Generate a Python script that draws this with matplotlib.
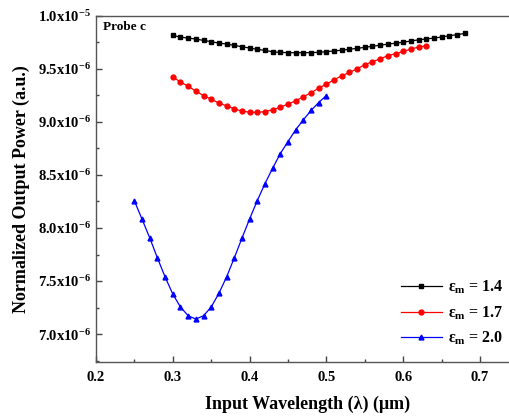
import numpy as np
import matplotlib
matplotlib.use("Agg")
import matplotlib.pyplot as plt
from matplotlib.ticker import MultipleLocator, FuncFormatter

plt.rcParams["font.family"] = ["Liberation Serif", "DejaVu Serif"]
plt.rcParams["font.weight"] = "bold"
plt.rcParams["mathtext.fontset"] = "custom"
plt.rcParams["mathtext.rm"] = "Liberation Serif:bold"
plt.rcParams["mathtext.it"] = "Liberation Serif:bold"
plt.rcParams["mathtext.default"] = "rm"

# longueurs d'onde (um)
x_14 = np.round(np.arange(0.30, 0.685, 0.01), 2)
x_17 = np.round(np.arange(0.30, 0.635, 0.01), 2)
x_20 = np.round(np.arange(0.25, 0.505, 0.01), 2)

# puissance normalisee (x1e-6)
y_14 = [9.814, 9.798, 9.789, 9.780, 9.767, 9.755, 9.742, 9.733, 9.720, 9.708,
        9.695, 9.683, 9.673, 9.660, 9.654, 9.652, 9.651, 9.651, 9.652, 9.655,
        9.661, 9.668, 9.675, 9.684, 9.692, 9.702, 9.712, 9.722, 9.732, 9.741,
        9.750, 9.762, 9.772, 9.781, 9.789, 9.799, 9.811, 9.821, 9.833]
y_17 = [9.425, 9.374, 9.336, 9.289, 9.248, 9.214, 9.176, 9.151, 9.123, 9.101,
        9.091, 9.088, 9.097, 9.113, 9.138, 9.167, 9.198, 9.236, 9.274, 9.318,
        9.355, 9.396, 9.434, 9.465, 9.500, 9.538, 9.566, 9.594, 9.623, 9.642,
        9.663, 9.686, 9.704, 9.717]
y_20 = [8.255, 8.082, 7.906, 7.717, 7.538, 7.377, 7.255, 7.173, 7.142, 7.173,
        7.255, 7.384, 7.538, 7.717, 7.903, 8.085, 8.258, 8.418, 8.563, 8.701,
        8.814, 8.925, 9.019, 9.107, 9.182, 9.248]

etiquetas = ["ε$_{m}$ = 1.4", "ε$_{m}$ = 1.7", "ε$_{m}$ = 2.0"]

fig = plt.figure(figsize=(5.09, 4.17), dpi=100)
ax = fig.add_axes([96 / 509, 55.3 / 417, 422.4 / 509, 346 / 417])

ax.plot(x_14, np.array(y_14) * 1e-6, color="black", marker="s", markersize=3.5,
        linewidth=0.9, label=etiquetas[0])
ax.plot(x_17, np.array(y_17) * 1e-6, color="red", marker="o", markersize=3.5,
        linewidth=0.9, label=etiquetas[1])
ax.plot(x_20, np.array(y_20) * 1e-6, color="blue", marker="^", markersize=3.5,
        linewidth=0.9, label=etiquetas[2])

ax.set_xlim(0.2, 0.75)
ax.set_ylim(6.74e-6, 1.0e-5)

ax.xaxis.set_major_locator(MultipleLocator(0.1))
ax.xaxis.set_minor_locator(MultipleLocator(0.05))
ax.yaxis.set_major_locator(MultipleLocator(0.5e-6))
ax.yaxis.set_minor_locator(MultipleLocator(0.25e-6))


def formato_y(v, pos):
    if v >= 0.99e-5:
        return "%.1fx10$^{-5}$" % (v * 1e5)
    return "%.1fx10$^{-6}$" % (v * 1e6)


ax.yaxis.set_major_formatter(FuncFormatter(formato_y))
ax.xaxis.set_major_formatter(FuncFormatter(lambda v, p: "%.1f" % v))

ax.tick_params(which="both", direction="in", top=False, right=False,
               labelsize=10.5, color="#444444")
ax.tick_params(which="major", length=4, width=1)
ax.tick_params(which="minor", length=2.5, width=1)
ax.tick_params(axis="x", pad=7)
for s in ax.spines.values():
    s.set_color("#555555")
    s.set_linewidth(1.0)

ax.set_xlabel("Input Wavelength (λ) (μm)", fontsize=13, fontweight="bold", labelpad=8)
ax.set_ylabel("Normalized Output Power (a.u.)", fontsize=13, fontweight="bold", labelpad=6)

fig.text(103 / 509, 1 - 27 / 417, "Probe c", fontsize=9.5, fontweight="bold",
         va="center", ha="left")

ax.legend(loc="lower left", bbox_to_anchor=(0.787, 0.168), bbox_transform=fig.transFigure,
          frameon=False, fontsize=11.5, handlelength=2.6, handletextpad=0.4,
          labelspacing=0.5, borderpad=0, borderaxespad=0)

plt.savefig("out.png", dpi=100)
plt.close()
